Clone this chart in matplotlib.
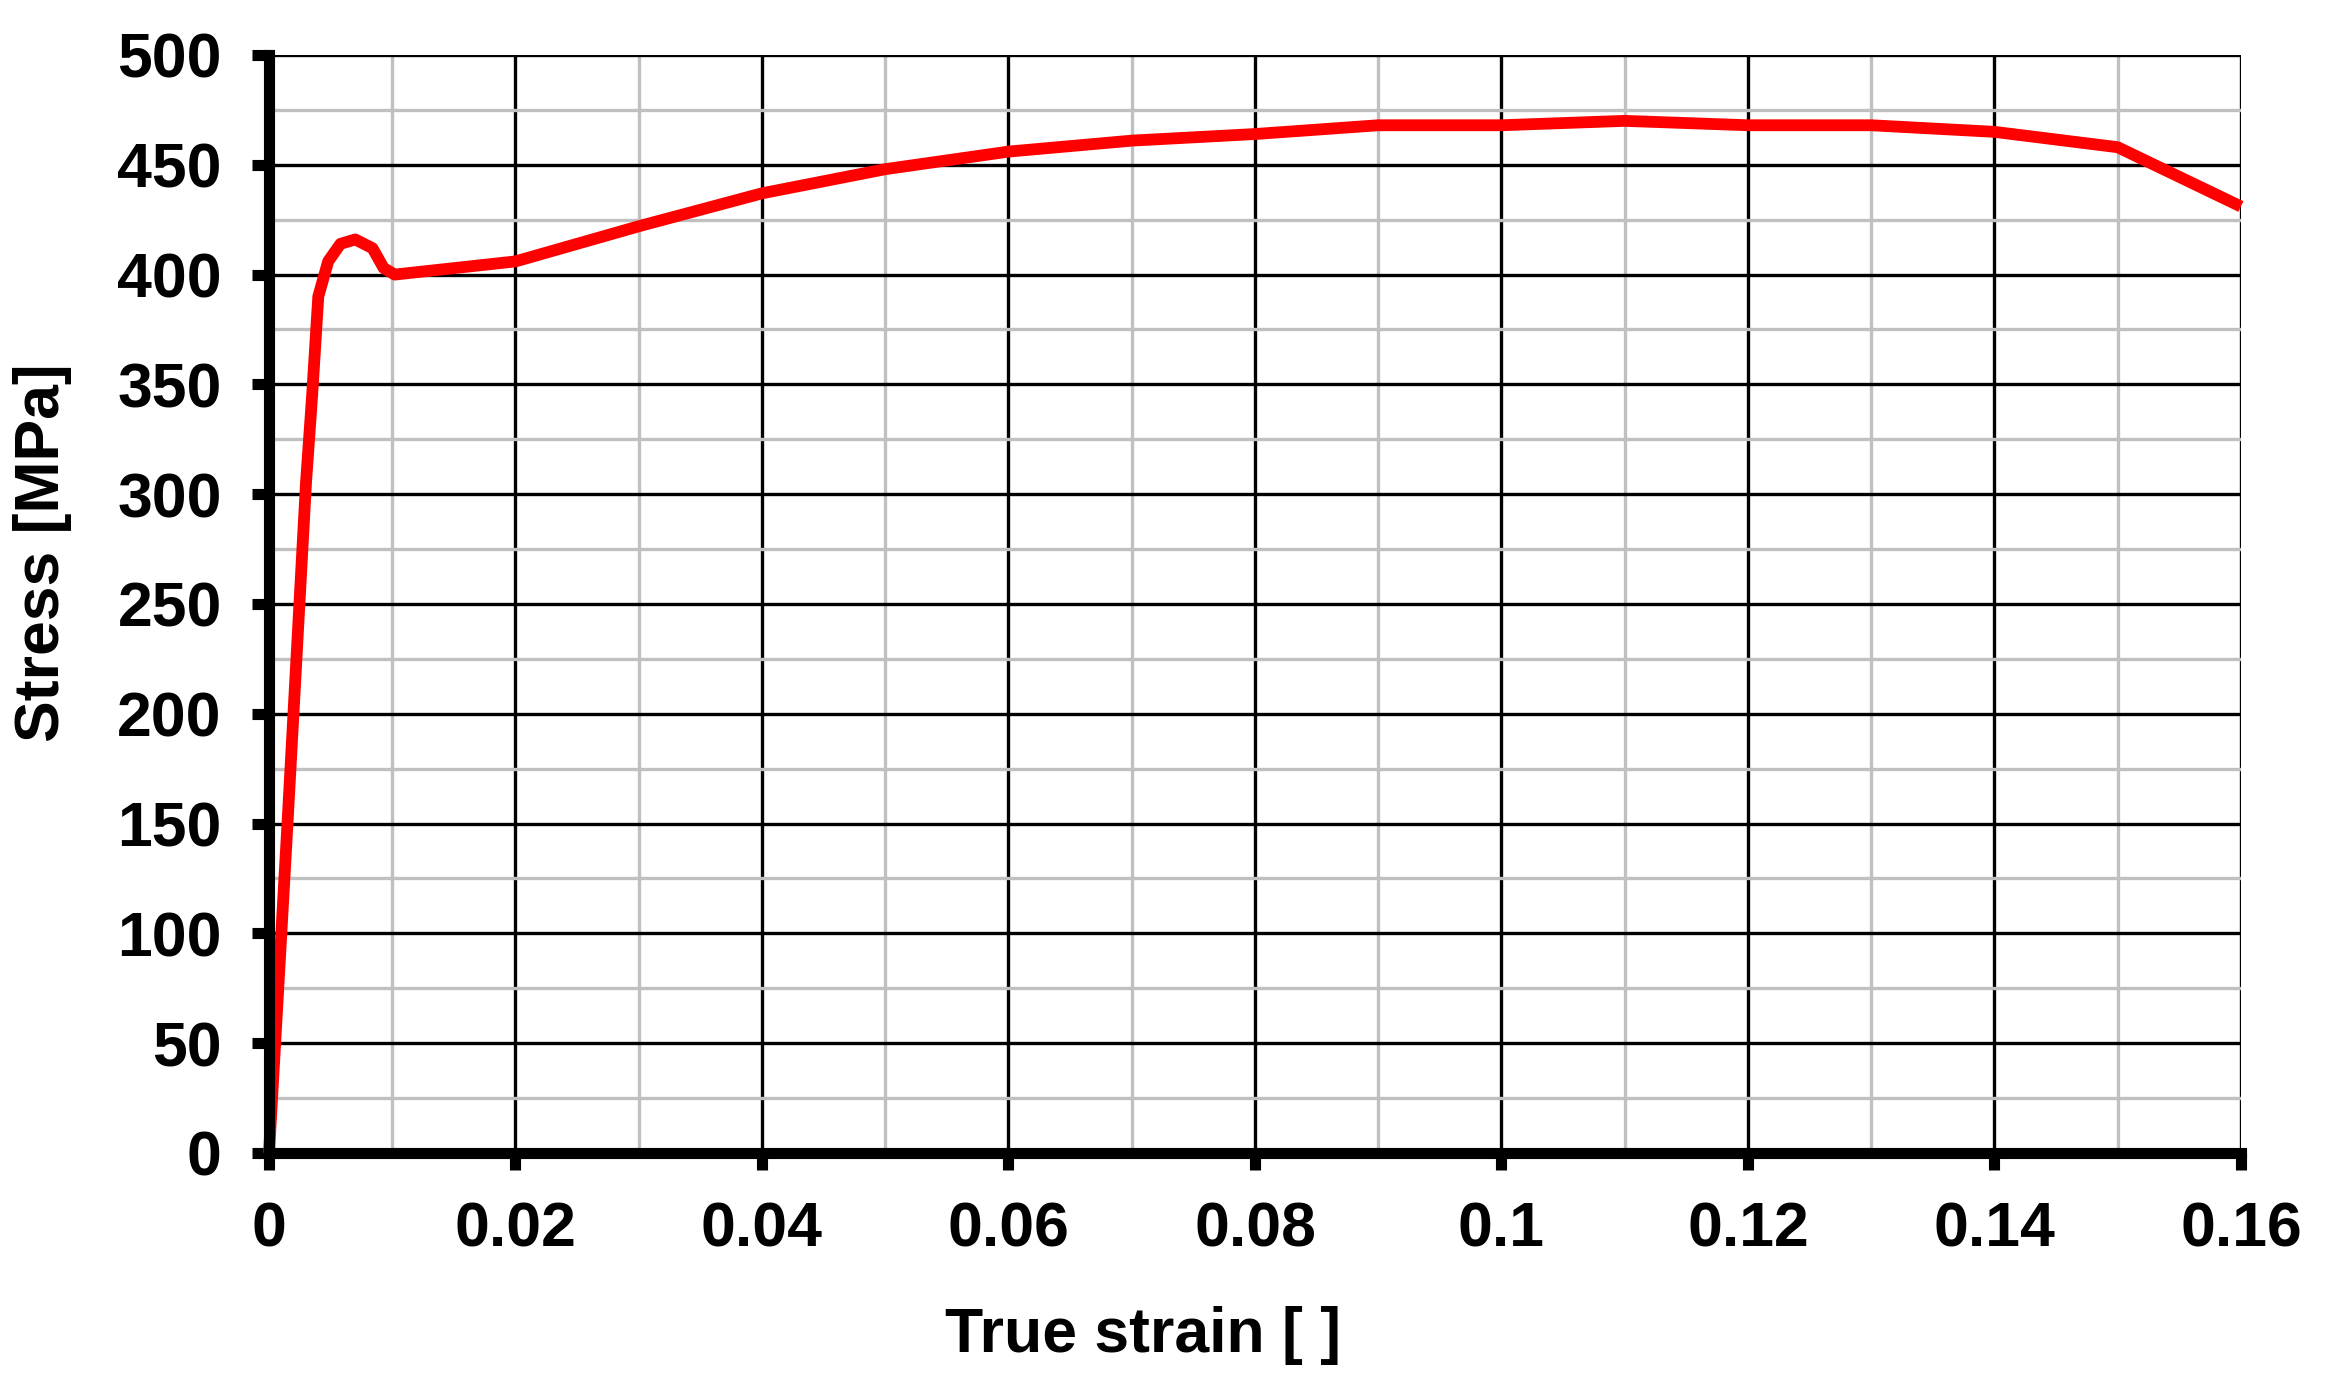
import matplotlib
matplotlib.use("Agg")
import matplotlib.pyplot as plt
from matplotlib.ticker import MultipleLocator, FuncFormatter

# dane
strain = [0.0, 0.0015, 0.0030, 0.0035, 0.0040, 0.0048, 0.0058, 0.0070,
          0.0084, 0.0093, 0.0102, 0.020, 0.030, 0.040, 0.050, 0.060,
          0.070, 0.080, 0.090, 0.100, 0.110, 0.120, 0.130, 0.140, 0.150, 0.160]
stress = [0, 150, 305, 345, 390, 406, 414, 416,
          412, 403, 400, 406, 422, 437, 448, 456,
          461, 464, 468, 468, 470, 468, 468, 465, 458, 431]

plt.rcParams['font.family'] = ['Liberation Sans', 'DejaVu Sans']
plt.rcParams['font.weight'] = 'bold'

fig = plt.figure(figsize=(23.27, 13.92), dpi=100)
ax = fig.add_axes([0.1156, 0.1717, 0.8474, 0.7888])

ax.plot(strain, stress, color='#ff0000', lw=8.5, solid_joinstyle='round',
        solid_capstyle='butt', zorder=3, clip_on=False)

ax.set_xlim(0, 0.16)
ax.set_ylim(0, 500)

ax.xaxis.set_major_locator(MultipleLocator(0.02))
ax.xaxis.set_minor_locator(MultipleLocator(0.01))
ax.yaxis.set_major_locator(MultipleLocator(50))
ax.yaxis.set_minor_locator(MultipleLocator(25))
ax.xaxis.set_major_formatter(FuncFormatter(lambda v, p: '%g' % round(v, 4)))

ax.grid(which='minor', color='#c0c0c0', lw=2.4, zorder=1)
ax.grid(which='major', color='black', lw=2.4, zorder=2)
ax.set_axisbelow(True)

for s in ['top', 'right']:
    ax.spines[s].set_visible(False)
for s in ['left', 'bottom']:
    ax.spines[s].set_linewidth(8)
    ax.spines[s].set_zorder(4)

ax.tick_params(which='major', direction='out', length=12, width=8,
               labelsize=45, pad=22)
ax.tick_params(which='minor', length=0)
for lab in ax.get_xticklabels() + ax.get_yticklabels():
    lab.set_fontweight('bold')

ax.set_xlabel('True strain [ ]', fontsize=45, fontweight='bold')
ax.set_ylabel('Stress [MPa]', fontsize=45, fontweight='bold')
ax.xaxis.set_label_coords(0.443, -0.139)
ax.yaxis.set_label_coords(-0.100, 0.547)

fig.savefig('out.png', dpi=100, facecolor='white')
